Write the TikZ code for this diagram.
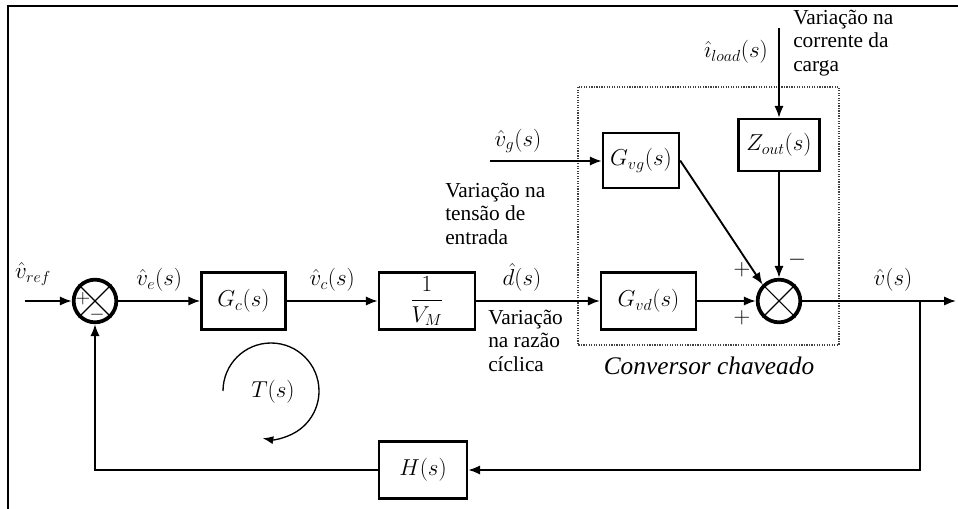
\documentclass[tikz,border=0pt]{standalone}
\usepackage{amsmath}
\usepackage{amssymb}
\usepackage{fontspec}
\setmainfont{Liberation Serif}
\usetikzlibrary{arrows.meta,positioning}

\begin{document}
\begin{tikzpicture}[x=0.75pt,y=0.75pt,
    box/.style={draw,line width=1.8pt,minimum height=42.5pt,inner sep=2pt,
      font=\fontsize{17}{20}\selectfont},
    sumj/.style={circle,draw,line width=2.8pt,minimum size=32pt,inner sep=0pt},
    arj/.style={line width=1.4pt,-{Latex[length=9pt,width=7pt]}},
    sgn/.style={inner sep=0pt,font=\fontsize{14}{14}\selectfont},
    mlab/.style={font=\fontsize{17}{20}\selectfont},
    note/.style={inner sep=0pt,align=left,anchor=north west,
      font=\fontsize{16}{17.5}\selectfont}]
  \useasboundingbox (0,0) rectangle (958,-509);
  \draw[line width=1.6pt] (8,-509) -- (8,-6) -- (958,-6);
  % switching converter frame
  \draw[densely dotted,line width=0.9pt,black!75] (578,-87) rectangle (839,-345);
  \node[font=\fontsize{19}{22}\selectfont\itshape] (conv) at (709,-366)
    {Conversor chaveado};
  % blocks
  \node[sumj] (s1) at (95,-301) {};
  \node[box,minimum width=63pt] (gc) at (243.5,-301) {$G_c(s)$};
  \node[box,minimum width=72pt] (vm) at (427,-301) {$\dfrac{1}{V_M}$};
  \node[box,minimum width=71pt] (gvd) at (648.5,-301) {$G_{vd}(s)$};
  \node[box,minimum width=57pt,minimum height=41pt] (gvg) at (641,-160.5)
    {$G_{vg}(s)$};
  \node[box,minimum width=61pt,minimum height=39pt] (zout) at (779,-145)
    {$Z_{out}(s)$};
  \node[sumj] (s2) at (779,-301) {};
  \node[box,minimum width=66pt] (hs) at (423,-470) {$H(s)$};
  \foreach \s in {s1,s2}
    \draw[line width=0.8pt] (\s.45) -- (\s.225) (\s.135) -- (\s.315);
  \node[sgn] (p1) at (83,-299) {$+$};
  \node[sgn] (m1) at (97,-315) {$-$};
  \node[sgn,font=\fontsize{16}{16}\selectfont] (p2) at (742,-270) {$+$};
  \node[sgn,font=\fontsize{16}{16}\selectfont] (p3) at (742,-318) {$+$};
  \node[sgn,font=\fontsize{16}{16}\selectfont] (m2) at (797,-260) {$-$};
  % free ends
  \coordinate (in) at (25,-301);
  \coordinate (out) at (956,-301);
  \coordinate (tap) at (920,-301);
  \coordinate (vgin) at (490,-161);
  \coordinate (iin) at (779,-28);
  % signals
  \node[mlab] (vref) at (33,-274) {$\hat{v}_{ref}$};
  \draw[arj] (in) -- (s1);
  \draw[arj] (s1) -- node[mlab,above=3pt]{$\hat{v}_e(s)$} (gc);
  \draw[arj] (gc) -- node[mlab,above=3pt]{$\hat{v}_c(s)$} (vm);
  \draw[arj] (vm) -- node[mlab,pos=0.37,above=3pt]{$\hat{d}(s)$} (gvd);
  \draw[arj] (gvd) -- (s2);
  \draw[arj] (s2) -- node[mlab,pos=0.59,above=3pt]{$\hat{v}(s)$} (out);
  \draw[arj] (tap) |- (hs.east);
  \draw[arj] (hs.west) -| (s1.south);
  \draw[arj] (vgin) -- (vgin -| gvg.west);
  \node[mlab] (vg) at (518,-141) {$\hat{v}_g(s)$};
  \draw[arj] (gvg.east) -- (s2.135);
  \draw[arj] (iin) -- (zout);
  \node[mlab] (il) at (736,-52) {$\hat{\imath}_{load}(s)$};
  \draw[arj] (zout) -- (s2);
  % notes
  \node[note] (ncarga) at (793,-10) {Variação na\\corrente da\\carga};
  \node[note] (ntensao) at (445,-183) {Variação na\\tensão de\\entrada};
  \node[note] (nrazao) at (488,-310) {Variação\\na razão\\cíclica};
  % loop gain
  \node[mlab] (ts) at (273,-392) {$T(s)$};
  \draw[line width=1pt,-{Latex[length=8pt,width=6pt]}] (223,-391)
    arc[start angle=180,end angle=-100,radius=36pt];
\end{tikzpicture}
\end{document}
